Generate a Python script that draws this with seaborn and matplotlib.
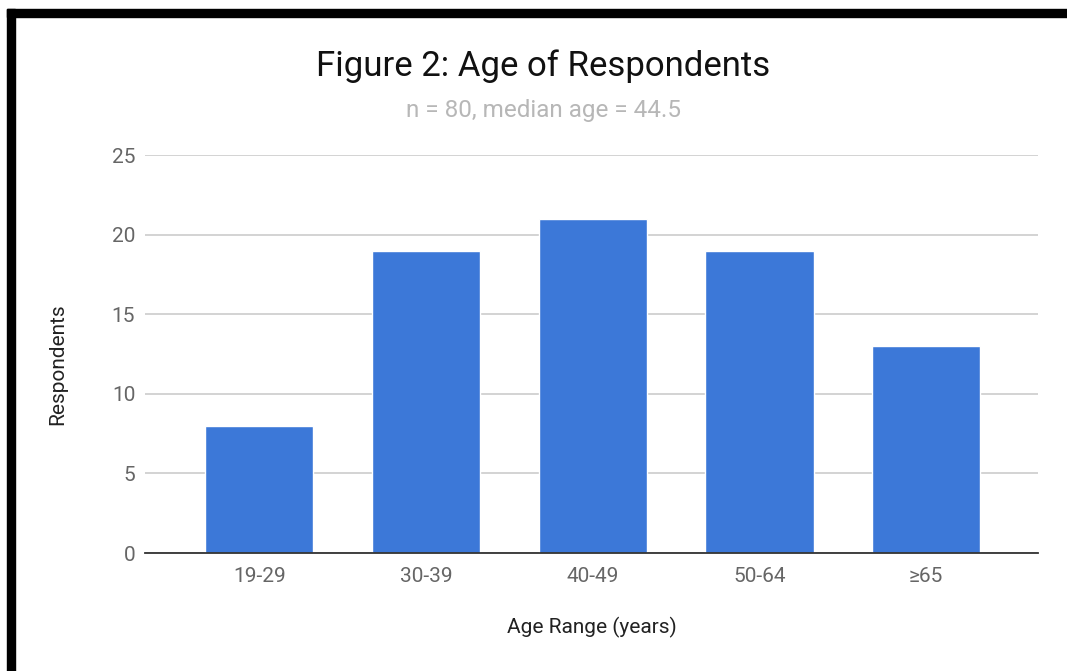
import matplotlib
matplotlib.use("Agg")
import matplotlib.pyplot as plt
from matplotlib.patches import Rectangle
import pandas as pd
import seaborn as sns

# Respondent counts per age bracket
age_ranges = ["19-29", "30-39", "40-49", "50-64", "\u226565"]
respondents = [8, 19, 21, 19, 13]
y_ticks = [0, 5, 10, 15, 20, 25]

title = "Figure 2: Age of Respondents"
subtitle = "n = 80, median age = 44.5"
x_label = "Age Range (years)"
y_label = "Respondents"

df = pd.DataFrame({"age": age_ranges, "count": respondents})

sns.set_theme(style="white")
plt.rcParams["font.family"] = ["Roboto", "DejaVu Sans"]

fig = plt.figure(figsize=(10.67, 6.71), dpi=100)
fig.patch.set_facecolor("white")
ax = fig.add_axes([0.1359, 0.1758, 0.9728 - 0.1359, 0.769 - 0.1758])

sns.barplot(data=df, x="age", y="count", color="#3c78d8", saturation=1,
            width=0.65, ax=ax, zorder=3)

ax.set_xlim(-0.685, 4.67)
ax.set_ylim(0, 25)
ax.set_yticks(y_ticks)
ax.yaxis.grid(True, color="#cccccc", linewidth=1.2, zorder=0)
ax.xaxis.grid(False)
for side in ["top", "right", "left"]:
    ax.spines[side].set_visible(False)
ax.spines["bottom"].set_color("#333333")
ax.spines["bottom"].set_linewidth(1.3)
ax.spines["bottom"].set_zorder(4)

ax.tick_params(axis="both", length=0, labelsize=15, labelcolor="#666666")
ax.tick_params(axis="y", pad=7)
ax.tick_params(axis="x", pad=10)

ax.set_xlabel(x_label, fontsize=15, color="#222222", labelpad=22)
ax.set_ylabel(y_label, fontsize=15, color="#222222", va="center")
ax.yaxis.set_label_coords(-0.0974, 0.475)

fig.text(0.509, 0.902, title, ha="center", va="center", fontsize=25, color="#111111")
fig.text(0.509, 0.836, subtitle, ha="center", va="center", fontsize=17.5, color="#b7b7b7")

# Black frame along the top and left edges
fig.patches.append(Rectangle((7 / 1067, 0), 8 / 1067, 1 - 9 / 671,
                             transform=fig.transFigure, color="black", zorder=10))
fig.patches.append(Rectangle((7 / 1067, 1 - 17 / 671), 1 - 7 / 1067, 8 / 671,
                             transform=fig.transFigure, color="black", zorder=10))

fig.savefig("out.png", dpi=100, facecolor="white")
